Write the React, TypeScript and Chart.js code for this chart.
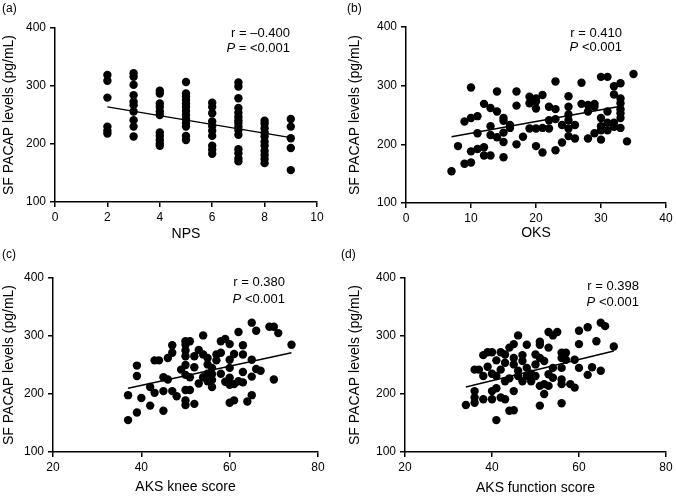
import React, { useEffect, useRef } from "react";
import { Chart, registerables } from "chart.js";

Chart.register(...registerables);

const FONT = "'Liberation Sans', Arial, Helvetica, sans-serif";
const Y_TICKS = [100, 200, 300, 400];
const Y_TITLE = "SF PACAP levels (pg/mL)";

// Panel (a): NPS
const npsX = [
  2, 2, 2, 2, 2, 2,
  3, 3, 3, 3, 3, 3, 3, 3, 3, 3,
  4, 4, 4, 4, 4, 4, 4, 4, 4, 4, 4,
  5, 5, 5, 5, 5, 5, 5, 5, 5, 5, 5, 5, 5,
  6, 6, 6, 6, 6, 6, 6, 6, 6, 6,
  7, 7, 7, 7, 7, 7, 7, 7, 7, 7, 7, 7, 7, 7, 7,
  8, 8, 8, 8, 8, 8, 8, 8, 8, 8, 8,
  9, 9, 9, 9, 9,
];
const npsY = [
  319, 309, 280, 230, 223, 218,
  322, 316, 302, 284, 273, 267, 256, 241, 230, 213,
  292, 287, 270, 264, 256, 250, 220, 214, 207, 201, 197,
  307, 287, 282, 276, 270, 264, 257, 250, 243, 236, 230, 214, 207,
  271, 264, 253, 239, 231, 223, 214, 197, 190, 183,
  306, 299, 279, 262, 254, 247, 241, 236, 230, 224, 216, 191, 184, 175, 170,
  240, 235, 227, 220, 213, 204, 197, 188, 181, 174, 167,
  243, 230, 210, 193, 155,
];
const npsFitX = [2, 9];
const npsFitY = [264, 211];

// Panel (b): OKS
const oksX = [
  7, 8, 9, 9, 10, 10, 10, 10, 11, 11, 11, 12, 12, 12, 13, 13, 13, 13,
  14, 14, 14, 15, 15, 15, 15, 15, 16, 16, 17, 17, 17, 18, 19, 19, 19,
  20, 20, 20, 20, 20, 21, 21, 21, 22, 22, 22, 23, 23, 23, 23, 24, 24,
  25, 25, 25, 25, 25, 25, 26, 26, 27, 27, 28, 28, 28, 29, 29, 29,
  30, 30, 30, 30, 30, 31, 31, 31, 31, 32, 32, 32, 32,
  33, 33, 33, 33, 33, 33, 33, 34, 35,
];
const oksY = [
  154, 197, 167, 239, 297, 245, 188, 169, 248, 219, 192, 269, 195, 181, 262, 231, 216, 181,
  290, 256, 212, 245, 240, 220, 204, 178, 233, 228, 290, 266, 200, 213, 281, 270, 227,
  278, 273, 261, 227, 197, 284, 228, 186, 264, 241, 227, 307, 260, 243, 190, 233, 203,
  282, 264, 251, 241, 227, 214, 233, 210, 305, 269, 267, 256, 210, 269, 264, 219,
  315, 245, 231, 224, 208, 315, 256, 237, 224, 299, 285, 237, 230,
  304, 278, 270, 260, 253, 245, 228, 205, 320,
];
const oksFitX = [7, 33];
const oksFitY = [213, 265];

// Panel (c): AKS knee score
const kneeX = [
  37, 37, 39, 39, 39, 40, 42, 42, 43, 43, 44, 45, 45, 45, 46, 46, 47, 47, 47, 48, 49,
  50, 50, 50, 50, 50, 50, 50, 50, 50, 51, 51, 51, 52, 52, 52, 53, 53,
  54, 54, 54, 55, 55, 55, 55, 56, 56, 56, 56, 57, 57, 58, 58, 58, 59, 59,
  60, 60, 60, 60, 60, 60, 61, 61, 61, 62, 62, 63, 63, 63, 63, 64,
  65, 65, 65, 65, 66, 66, 67, 69, 70, 70, 71, 74,
];
const kneeY = [
  155, 198, 168, 231, 249, 193, 180, 212, 202, 258, 258, 171, 205, 229, 225, 262, 205, 271, 284, 196, 242,
  291, 285, 275, 265, 250, 233, 207, 189, 181, 291, 229, 207, 246, 265, 183, 276, 218,
  301, 268, 229, 262, 251, 235, 222, 245, 234, 224, 212, 268, 258, 291, 271, 235, 295, 221,
  286, 259, 245, 228, 216, 185, 269, 217, 189, 307, 222, 284, 268, 238, 220, 187,
  323, 259, 230, 198, 309, 243, 240, 316, 316, 225, 305, 285,
];
const kneeFitX = [37, 74];
const kneeFitY = [210, 271];

// Panel (d): AKS function score
const funcX = [
  34, 36, 36, 36, 36, 37, 38, 38, 38, 39, 39, 40, 40, 40, 40, 41, 41, 41, 41,
  42, 42, 42, 43, 43, 43, 43, 44, 44, 44, 45, 45, 45, 45, 45, 46, 46, 46,
  47, 47, 47, 48, 48, 48, 49, 49, 50, 50, 50, 51, 51, 51, 51, 51, 52, 52, 52,
  53, 53, 53, 53, 54, 54, 54, 55, 56, 56, 56, 56, 56, 56, 57, 57, 58, 59, 59,
  60, 60, 60, 62, 62, 63, 64, 65, 65, 66, 68,
];
const funcY = [
  181, 205, 194, 185, 242, 242, 191, 231, 267, 272, 247, 272, 235, 205, 191, 258, 231, 210, 155,
  272, 242, 194, 268, 254, 222, 191, 280, 227, 171, 286, 262, 251, 205, 172, 301, 240, 231,
  267, 257, 222, 285, 245, 231, 235, 222, 268, 251, 231, 290, 285, 262, 214, 180, 257, 200, 217,
  307, 280, 234, 214, 301, 245, 228, 307, 271, 262, 245, 225, 217, 184, 271, 259, 217, 259, 211,
  309, 286, 245, 233, 315, 246, 291, 240, 323, 317, 282,
];
const funcFitX = [34, 68];
const funcFitY = [212, 274];

type Panel = {
  tag: string;
  xs: number[];
  ys: number[];
  fitX: number[];
  fitY: number[];
  xMin: number;
  xMax: number;
  xStep: number;
  xTitle: string;
  rText: string;
  pText: string;
};

const panels: Panel[] = [
  { tag: "(a)", xs: npsX, ys: npsY, fitX: npsFitX, fitY: npsFitY, xMin: 0, xMax: 10, xStep: 2, xTitle: "NPS", rText: "r = \u20130.400", pText: " = <0.001" },
  { tag: "(b)", xs: oksX, ys: oksY, fitX: oksFitX, fitY: oksFitY, xMin: 0, xMax: 40, xStep: 10, xTitle: "OKS", rText: "r = 0.410", pText: " <0.001" },
  { tag: "(c)", xs: kneeX, ys: kneeY, fitX: kneeFitX, fitY: kneeFitY, xMin: 20, xMax: 80, xStep: 20, xTitle: "AKS knee score", rText: "r = 0.380", pText: " <0.001" },
  { tag: "(d)", xs: funcX, ys: funcY, fitX: funcFitX, fitY: funcFitY, xMin: 20, xMax: 80, xStep: 20, xTitle: "AKS function score", rText: "r = 0.398", pText: " <0.001" },
];

type Layout = {
  left: number; top: number; w: number; h: number;
  yAxisW: number; xAxisH: number; padTop: number; padRight: number;
  yTitlePad: number; xTitlePad: number; tagX: number; tagY: number; textRight: number; rY: number; pY: number;
};

const layouts: Layout[] = [
  { left: 0, top: 0, w: 338, h: 248, yAxisW: 55, xAxisH: 46, padTop: 28, padRight: 21, yTitlePad: 1, xTitlePad: 5, tagX: 2, tagY: 9, textRight: 290, rY: 33, pY: 48 },
  { left: 338, top: 0, w: 338, h: 248, yAxisW: 68, xAxisH: 45, padTop: 27, padRight: 10, yTitlePad: 9, xTitlePad: 6, tagX: 9, tagY: 9, textRight: 284, rY: 33, pY: 47 },
  { left: 0, top: 248, w: 338, h: 249, yAxisW: 53, xAxisH: 45, padTop: 30, padRight: 20, yTitlePad: 1, xTitlePad: 1, tagX: 2, tagY: 7, textRight: 285, rY: 34, pY: 51 },
  { left: 338, top: 248, w: 338, h: 249, yAxisW: 67, xAxisH: 45, padTop: 30, padRight: 10, yTitlePad: 9, xTitlePad: 0, tagX: 3, tagY: 7, textRight: 301, rY: 38, pY: 54 },
];

function PanelChart({ p, l }: { p: Panel; l: Layout }) {
  const ref = useRef<HTMLCanvasElement | null>(null);
  useEffect(() => {
    if (!ref.current) return;
    const pts = p.xs.map((x, i) => ({ x, y: p.ys[i] }));
    const fit = p.fitX.map((x, i) => ({ x, y: p.fitY[i] }));
    const textPlugin = {
      id: "txt" + p.tag,
      afterDraw(chart: any) {
        const ctx = chart.ctx;
        ctx.save();
        ctx.fillStyle = "#000";
        ctx.textBaseline = "middle";
        ctx.font = `12px ${FONT}`;
        ctx.textAlign = "left";
        ctx.fillText(p.tag, l.tagX, l.tagY);
        ctx.font = `13px ${FONT}`;
        ctx.textAlign = "right";
        ctx.fillText(p.rText, l.textRight, l.rY);
        const restW = ctx.measureText(p.pText).width;
        ctx.fillText(p.pText, l.textRight, l.pY);
        ctx.font = `italic 13px ${FONT}`;
        ctx.fillText("P", l.textRight - restW, l.pY);
        ctx.restore();
      },
    };
    const axisCommon = {
      grid: { display: true, drawOnChartArea: false, drawTicks: true, tickLength: 5, color: "#000", lineWidth: 1.5 },
      border: { display: true, color: "#000", width: 1.5 },
    };
    const chart = new Chart(ref.current, {
      type: "scatter",
      data: {
        datasets: [
          { data: pts, pointRadius: 4.2, pointHoverRadius: 4.2, backgroundColor: "#000", borderColor: "#000", borderWidth: 0 },
          { data: fit, showLine: true, pointRadius: 0, borderColor: "#000", borderWidth: 1.5, backgroundColor: "#000" },
        ],
      },
      options: {
        animation: false,
        responsive: false,
        devicePixelRatio: 1,
        layout: { padding: { left: 0, right: l.padRight, top: l.padTop, bottom: 0 } },
        plugins: { legend: { display: false }, tooltip: { enabled: false } },
        scales: {
          x: {
            type: "linear",
            min: p.xMin,
            max: p.xMax,
            ...axisCommon,
            ticks: { stepSize: p.xStep, color: "#000", font: { size: 12, family: FONT }, padding: 3, maxRotation: 0 },
            title: { display: true, text: p.xTitle, color: "#000", font: { size: 14, family: FONT }, padding: { top: 2, bottom: l.xTitlePad } },
            afterFit: (s: any) => { s.height = l.xAxisH; },
          },
          y: {
            type: "linear",
            min: 100,
            max: 400,
            ...axisCommon,
            afterBuildTicks: (s: any) => { s.ticks = Y_TICKS.map((v) => ({ value: v })); },
            ticks: { color: "#000", font: { size: 12, family: FONT }, padding: 4 },
            title: { display: true, text: Y_TITLE, color: "#000", font: { size: 14, family: FONT }, padding: { top: l.yTitlePad, bottom: 0 } },
            afterFit: (s: any) => { s.width = l.yAxisW; },
          },
        },
      },
      plugins: [textPlugin],
    } as any);
    return () => chart.destroy();
  }, [p, l]);
  return (
    <canvas
      ref={ref}
      width={l.w}
      height={l.h}
      style={{ position: "absolute", left: l.left, top: l.top, width: l.w, height: l.h }}
    />
  );
}

export default function App() {
  return (
    <div style={{ position: "absolute", left: 0, top: 0, width: 676, height: 497, background: "#fff" }}>
      {panels.map((p, i) => (
        <PanelChart key={p.tag} p={p} l={layouts[i]} />
      ))}
    </div>
  );
}
